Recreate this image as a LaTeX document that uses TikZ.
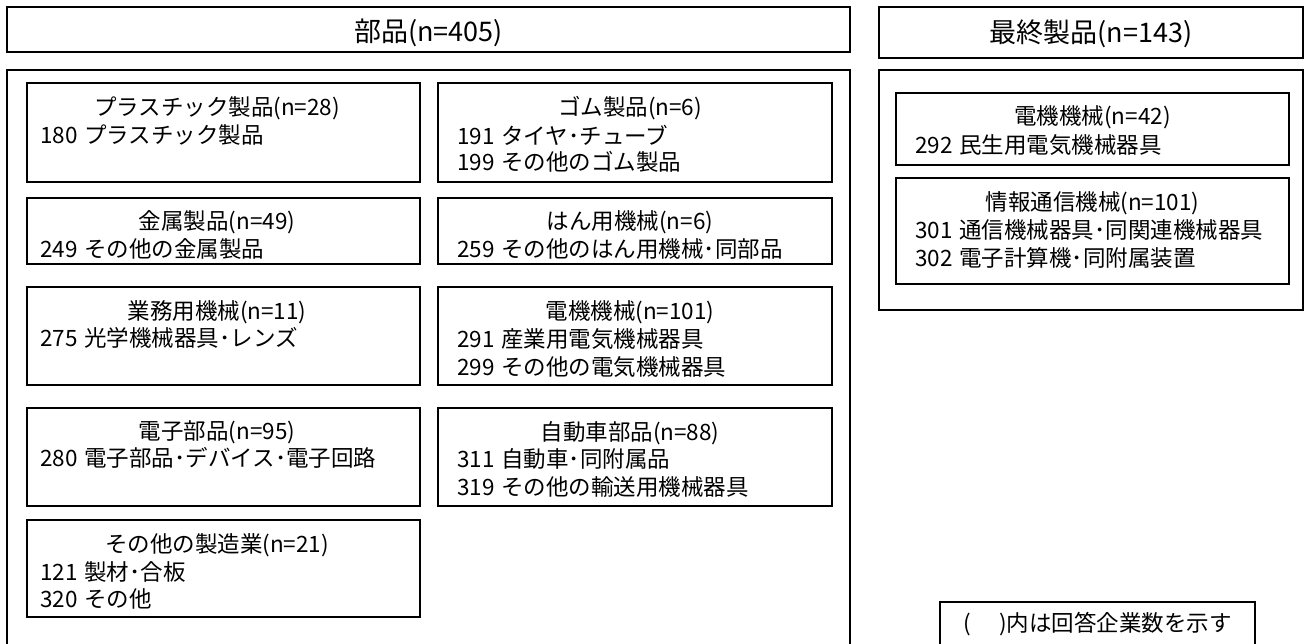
\documentclass[tikz,border=0pt]{standalone}
\usepackage{fontspec}
\setmainfont{Noto Sans CJK JP}
\usetikzlibrary{calc}
\newcommand\gp{\hspace{0.3em}}
\tikzset{
  frame/.style={draw=black, line width=1.8pt},
  cbox/.style={frame, anchor=north west, inner sep=0pt, outer sep=0pt},
  head/.style={font=\fontsize{22.5}{26}\selectfont, anchor=center, inner sep=0pt},
  item/.style={font=\fontsize{22.5}{26}\selectfont, anchor=west, inner sep=0pt},
  ttl/.style={font=\fontsize{27}{31}\selectfont, anchor=center, inner sep=0pt}
}
\begin{document}
\begin{tikzpicture}[x=1pt,y=-1pt]
\useasboundingbox (0,0) rectangle (1305,643);
% title boxes
\node[cbox, minimum width=843, minimum height=45] (tl) at (7,7) {};
\node[ttl] (tlt) at (428.5,33) {部品(n=405)};
\node[cbox, minimum width=424, minimum height=51] (tr) at (879,7) {};
\node[ttl] (trt) at (1091,34) {最終製品(n=143)};
% outer frames
\draw[frame] (7,646) -- (7,70) -- (850,70) -- (850,646);
\node[cbox, minimum width=424, minimum height=240] (ro) at (879,70) {};
% column 1
\node[cbox, minimum width=393, minimum height=99] (a1) at (27,83) {};
\node[head] (a1h) at ($(a1.north west)+(190,25)$) {プラスチック製品(n=28)};
\node[item] (a1a) at ($(a1.north west)+(13,52)$) {180\gp{}プラスチック製品};
\node[cbox, minimum width=393, minimum height=66] (a2) at (27,198) {};
\node[head] (a2h) at ($(a2.north west)+(190,24)$) {金属製品(n=49)};
\node[item] (a2a) at ($(a2.north west)+(13,51)$) {249\gp{}その他の金属製品};
\node[cbox, minimum width=393, minimum height=98] (a3) at (27,287) {};
\node[head] (a3h) at ($(a3.north west)+(190,25)$) {業務用機械(n=11)};
\node[item] (a3a) at ($(a3.north west)+(13,51)$) {275\gp{}光学機械器具･レンズ};
\node[cbox, minimum width=393, minimum height=98] (a4) at (27,408) {};
\node[head] (a4h) at ($(a4.north west)+(190,24)$) {電子部品(n=95)};
\node[item] (a4a) at ($(a4.north west)+(13,50)$) {280\gp{}電子部品･デバイス･電子回路};
\node[cbox, minimum width=393, minimum height=97] (a5) at (27,520) {};
\node[head] (a5h) at ($(a5.north west)+(190,25)$) {その他の製造業(n=21)};
\node[item] (a5a) at ($(a5.north west)+(13,52)$) {121\gp{}製材･合板};
\node[item] (a5b) at ($(a5.north west)+(13,79)$) {320\gp{}その他};
% column 2
\node[cbox, minimum width=394, minimum height=99] (b1) at (438,83) {};
\node[head] (b1h) at ($(b1.north west)+(192,25)$) {ゴム製品(n=6)};
\node[item] (b1a) at ($(b1.north west)+(19,52)$) {191\gp{}タイヤ･チューブ};
\node[item] (b1b) at ($(b1.north west)+(19,79)$) {199\gp{}その他のゴム製品};
\node[cbox, minimum width=394, minimum height=66] (b2) at (438,198) {};
\node[head] (b2h) at ($(b2.north west)+(192,24)$) {はん用機械(n=6)};
\node[item] (b2a) at ($(b2.north west)+(19,51)$) {259\gp{}その他のはん用機械･同部品};
\node[cbox, minimum width=394, minimum height=98] (b3) at (438,287) {};
\node[head] (b3h) at ($(b3.north west)+(192,25)$) {電機機械(n=101)};
\node[item] (b3a) at ($(b3.north west)+(19,52)$) {291\gp{}産業用電気機械器具};
\node[item] (b3b) at ($(b3.north west)+(19,80)$) {299\gp{}その他の電気機械器具};
\node[cbox, minimum width=394, minimum height=98] (b4) at (438,408) {};
\node[head] (b4h) at ($(b4.north west)+(192,25)$) {自動車部品(n=88)};
\node[item] (b4a) at ($(b4.north west)+(19,51)$) {311\gp{}自動車･同附属品};
\node[item] (b4b) at ($(b4.north west)+(19,79)$) {319\gp{}その他の輸送用機械器具};
% right column
\node[cbox, minimum width=393, minimum height=72] (c1) at (896,93) {};
\node[head] (c1h) at ($(c1.north west)+(196.5,24)$) {電機機械(n=42)};
\node[item] (c1a) at ($(c1.north west)+(19,52)$) {292\gp{}民生用電気機械器具};
\node[cbox, minimum width=393, minimum height=106] (c2) at (896,178) {};
\node[head] (c2h) at ($(c2.north west)+(196.5,25)$) {情報通信機械(n=101)};
\node[item] (c2a) at ($(c2.north west)+(19,52)$) {301\gp{}通信機械器具･同関連機械器具};
\node[item] (c2b) at ($(c2.north west)+(19,80)$) {302\gp{}電子計算機･同附属装置};
% legend
\draw[frame] (940,646) -- (940,602) -- (1255,602) -- (1255,646);
\node[head] (lg) at (1097.5,624) {(\hspace{28pt})内は回答企業数を示す};
\end{tikzpicture}
\end{document}
